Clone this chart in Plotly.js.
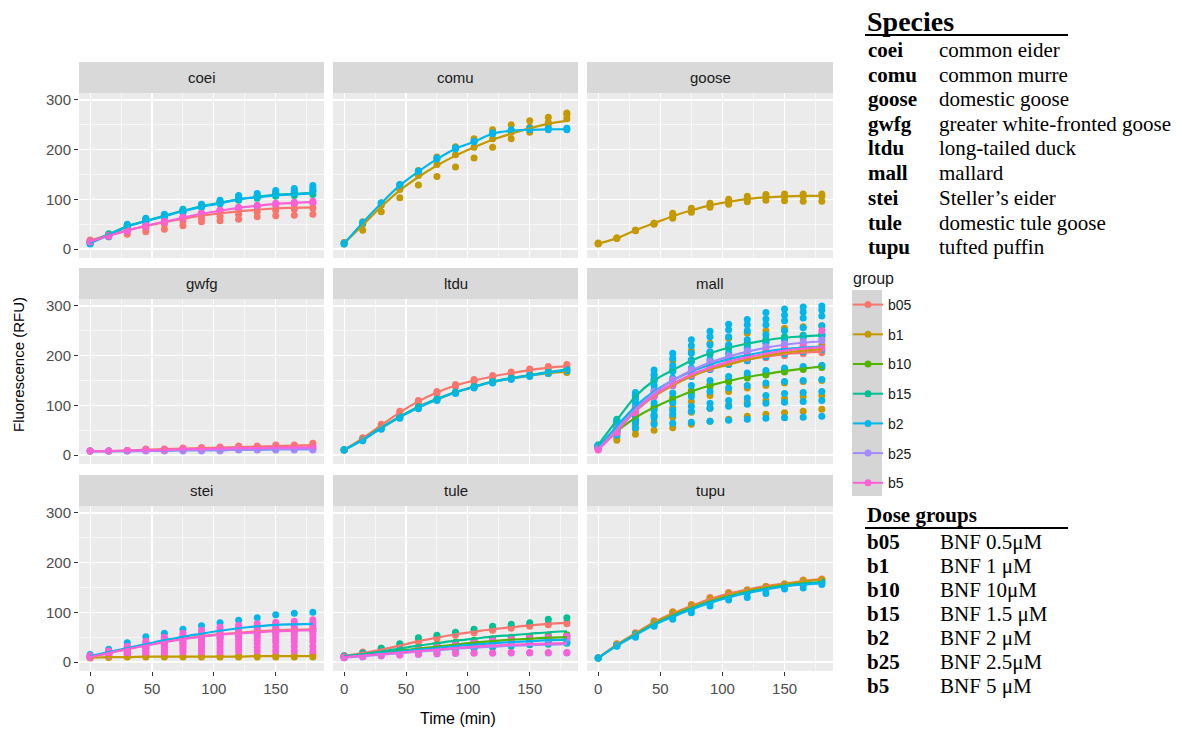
<!DOCTYPE html>
<html><head><meta charset="utf-8">
<script src="https://cdn.plot.ly/plotly-3.0.1.min.js"></script>
<style>html,body{margin:0;padding:0;background:#fff;}#chart{width:1181px;height:730px;}</style>
</head><body><div id="chart"></div>
<script>
// ---------------- DATA ----------------
const TIME = [0,15,30,45,60,75,90,105,120,135,150,165,180];
const GROUPS = ['b05','b1','b10','b15','b2','b25','b5'];
const GROUP_COLORS = ['#F8766D','#C49A00','#53B400','#00C094','#00B6EB','#A58AFF','#FB61D7'];
const SPECIES = ['coei','comu','goose','gwfg','ltdu','mall','stei','tule','tupu'];
const SPECIES_NAMES = ['common eider','common murre','domestic goose','greater white-fronted goose','long-tailed duck','mallard','Steller\u2019s eider','domestic tule goose','tufted puffin'];
const DOSE_CODES = ['b05','b1','b10','b15','b2','b25','b5'];
const DOSE_NAMES = ['BNF 0.5\u03bcM','BNF 1 \u03bcM','BNF 10\u03bcM','BNF 1.5 \u03bcM','BNF 2 \u03bcM','BNF 2.5\u03bcM','BNF 5 \u03bcM'];
const X_TICKS = [0,50,100,150];
const Y_TICKS = [0,100,200,300];

// smoothed fits per species / group
const coei_fit = {
  b05:[17,28,38,46,54,61,67,72,76,79,82,83,84],
  b15:[14,30,46,57,67,77,86,93,100,105,109,111,113],
  b2:[12,28,45,56,66,76,85,92,100,104,108,110,112],
  b5:[15,27,37,47,55,63,71,77,83,87,91,93,95]};
const coei_reps = {
  b05:[[18,25,30,35,40,47,55,57,60,65,67,68,70],[17,30,40,50,58,65,72,78,82,85,88,90,92],[16,27,36,42,50,56,62,66,70,74,78,80,82]],
  b15:[[15,31,48,60,68,80,88,95,102,108,112,115,116],[13,28,44,55,65,74,84,91,98,102,106,108,110]],
  b2:[[10,28,50,62,70,78,90,98,108,112,118,122,128],[12,25,44,55,65,75,85,92,100,105,110,113,118],[11,27,47,58,68,77,87,95,104,108,114,118,123]],
  b5:[[15,28,38,48,56,64,72,78,84,88,92,94,96],[14,26,36,45,54,62,70,76,82,86,90,92,94]]};

const comu_fit = {
  b1:[12,48,85,118,145,168,188,205,220,232,243,252,258],
  b2:[11,53,92,128,156,181,202,216,232,238,240,241,241]};
const comu_reps = {
  b1:[[10,38,75,103,129,146,165,183,205,222,235,250,262],[13,55,92,130,158,185,206,222,240,250,258,265,270],[12,50,88,120,148,170,190,205,222,235,245,255,274]],
  b2:[[10,52,92,128,156,181,202,216,232,238,240,240,240],[12,54,93,130,157,183,204,217,234,240,243,243,243]]};

const goose_fit = {b1:[11,22,38,52,66,78,88,95,101,104,106,107,107]};
const goose_reps = {b1:[[10,22,38,52,72,82,92,100,106,110,111,111,111],[12,21,37,50,62,74,84,90,95,98,97,96,96],[11,22,38,52,66,78,88,95,101,104,106,107,107]]};

const gwfg_fit = {
  b05:[8,8,9,11,12,13,14,15,16,17,18,19,20],
  b2:[8,8,8,9,9,10,10,10,11,11,12,12,12],
  b25:[8,8,8,8,9,10,10,10,11,11,12,12,12],
  b5:[8,8,9,10,10,12,12,13,14,14,15,15,16]};
const gwfg_reps = {
  b05:[[8,8,9,12,12,14,15,16,18,18,20,20,24],[8,8,9,10,11,12,13,14,15,16,16,17,18]],
  b2:[[8,8,8,9,9,10,10,10,11,11,12,12,12]],
  b25:[[8,8,8,8,8,8,8,8,10,10,10,10,10]],
  b5:[[8,8,9,10,10,12,12,13,14,14,15,15,16]]};

const ltdu_fit = {
  b05:[10,34,60,86,108,126,140,150,158,165,171,176,179],
  b1:[10,31,55,77,96,112,126,137,147,154,160,165,168],
  b15:[11,31,55,77,97,113,127,138,148,155,161,167,172],
  b2:[10,30,54,76,95,112,126,137,147,154,160,166,171]};
const ltdu_reps = {
  b05:[[10,35,62,88,110,128,142,152,160,167,173,178,182],[10,33,58,84,106,124,138,148,156,163,169,174,176]],
  b1:[[10,31,55,77,96,112,126,137,147,154,160,164,166]],
  b15:[[11,31,55,77,97,113,127,138,148,155,161,167,172]],
  b2:[[10,30,54,76,95,112,126,137,147,154,160,166,171],[10,29,52,74,93,110,124,135,145,152,158,164,169]]};

const mall_fit = {
  b05:[15,55,92,122,143,160,174,184,192,198,203,206,208],
  b1:[14,52,88,118,140,158,172,182,192,200,206,210,213],
  b10:[18,48,75,96,113,128,140,149,157,163,169,174,178],
  b15:[20,70,118,150,171,190,205,216,224,231,236,239,241],
  b2:[15,58,98,128,150,168,182,193,201,208,213,216,218],
  b25:[12,52,92,125,150,170,186,198,208,216,222,226,229],
  b5:[10,48,88,120,143,162,176,188,197,204,210,214,217]};
const mall_reps = {
  b05:[[14,52,90,120,140,158,172,182,190,196,200,204,206],[16,58,96,126,148,164,178,188,196,202,207,210,212]],
  b1:[[12,30,42,50,55,62,68,72,78,82,85,88,92],[13,35,52,66,76,86,94,100,106,110,114,118,120],[14,40,62,80,95,108,120,128,135,140,145,148,150],[15,55,92,122,145,165,180,192,200,208,214,218,222],[16,70,120,160,190,210,225,235,245,250,255,258,260]],
  b10:[[18,45,72,94,110,125,138,147,155,161,167,172,176],[19,50,78,98,116,130,142,151,159,165,171,176,180]],
  b15:[[20,72,120,152,173,192,207,218,226,233,238,241,243],[19,68,115,148,169,188,203,214,222,229,234,237,239]],
  b2:[[20,68,126,171,205,232,249,263,273,287,294,298,300],[19,65,120,162,195,220,238,252,262,274,282,288,292],[18,62,112,152,180,205,222,238,250,262,270,276,280],[17,58,104,140,168,190,208,222,232,242,250,256,260],[17,55,95,130,155,175,192,205,215,225,232,238,242],[16,52,88,118,140,158,172,182,190,198,204,208,212],[16,50,80,105,125,140,150,158,165,170,175,178,180],[15,48,72,90,105,118,128,135,140,145,148,150,152],[16,46,68,80,90,98,104,110,115,120,124,126,128],[16,45,65,75,82,88,94,98,102,104,106,108,110],[15,40,55,62,64,66,68,70,72,74,75,76,78]],
  b25:[[12,50,90,122,148,168,184,196,206,214,220,225,230],[13,54,94,128,152,172,188,200,210,218,224,228,232]],
  b5:[[10,45,85,118,140,160,174,186,195,202,208,212,215],[12,52,92,124,148,166,180,192,200,208,214,220,250]]};

const stei_fit = {
  b05:[11,18,26,34,41,47,52,56,59,62,64,65,66],
  b1:[9,10,10,11,11,11,11,11,11,12,12,12,12],
  b2:[12,20,28,36,44,51,57,63,68,72,75,76,77],
  b5:[10,18,26,33,40,46,51,55,58,60,62,63,64]};
const stei_reps = {
  b05:[[11,18,26,34,41,47,52,56,59,62,64,65,66]],
  b1:[[8,9,10,10,10,10,10,10,10,10,10,10,10],[9,10,11,12,12,12,13,13,13,14,14,14,15]],
  b2:[[15,26,39,51,58,66,73,79,84,89,95,98,100],[10,16,22,28,34,40,45,50,54,58,60,62,64]],
  b5:[[9,12,15,16,18,20,20,20,22,22,22,22,22],[10,13,16,19,22,25,26,27,29,30,31,32,32],[10,14,18,22,26,30,32,34,36,38,40,41,42],[10,15,20,25,30,34,37,40,42,44,46,48,49],[10,16,22,28,34,38,42,46,48,50,52,54,56],[11,17,24,31,38,43,47,51,54,56,58,60,62],[11,19,27,34,42,48,52,56,60,62,64,66,68],[12,20,29,37,44,51,56,60,64,67,69,71,73],[12,21,30,39,46,53,59,64,68,71,74,76,78],[12,22,32,42,50,58,64,70,74,77,80,82,85]]};

const tule_fit = {
  b05:[12,18,25,33,42,49,56,61,66,70,74,77,79],
  b10:[11,14,18,23,27,31,35,39,42,45,47,49,50],
  b15:[12,16,21,27,33,38,43,47,51,54,57,60,62],
  b2:[10,13,17,21,25,28,32,35,38,40,42,44,45],
  b25:[9,12,15,18,21,24,27,29,31,33,34,35,36],
  b5:[10,13,16,19,22,25,28,31,33,35,36,37,38]};
const tule_reps = {
  b05:[[13,20,28,36,45,52,58,63,68,72,75,78,80],[11,17,23,31,40,47,54,59,64,68,72,75,77]],
  b10:[[11,15,20,25,30,35,40,44,47,50,52,54,55],[11,13,16,20,24,28,30,34,37,40,42,44,45]],
  b15:[[12,18,28,37,49,54,60,66,72,76,79,86,89],[11,14,16,18,20,22,26,28,30,32,35,36,38]],
  b2:[[10,14,19,24,28,32,36,40,43,46,48,50,52],[9,12,15,18,22,25,28,30,33,35,37,38,40]],
  b25:[[9,12,17,22,26,30,34,38,40,43,45,47,48],[8,10,12,14,15,16,17,18,18,18,18,18,18]],
  b5:[[10,14,18,22,28,32,36,40,44,46,48,50,52],[9,11,13,14,16,17,18,18,18,19,19,19,19]]};

const tupu_fit = {
  b05:[8,35,58,80,98,113,127,138,146,153,158,163,167],
  b1:[8,34,57,79,96,111,124,135,144,151,157,162,166],
  b15:[8,33,55,76,93,108,121,132,141,148,154,158,161],
  b2:[8,33,54,75,91,106,119,130,139,146,152,156,159]};
const tupu_reps = {
  b05:[[8,37,59,83,101,116,130,140,145,152,157,165,167]],
  b1:[[8,36,58,81,100,115,128,138,145,152,157,164,166],[8,33,55,78,94,108,122,134,142,150,156,160,164]],
  b15:[[8,33,55,76,93,108,121,132,141,148,154,158,161]],
  b2:[[8,32,50,72,86,99,113,125,130,138,147,149,156],[8,34,56,76,92,107,120,131,140,147,153,157,160]]};

const FITS = [coei_fit,comu_fit,goose_fit,gwfg_fit,ltdu_fit,mall_fit,stei_fit,tule_fit,tupu_fit];
const REPS = [coei_reps,comu_reps,goose_reps,gwfg_reps,ltdu_reps,mall_reps,stei_reps,tule_reps,tupu_reps];

// ---------------- LAYOUT GEOMETRY ----------------
const W = 1181, H = 730;
const COLS = [[79,324],[333,578],[587,833]];
const ROWS = [[93,258],[299,464],[506,671]];
const STRIP_H = 31;
const px = v => v / W;
const py = v => 1 - v / H;
const SANS = 'Liberation Sans, Arial, sans-serif';
const SERIF = 'Liberation Serif, Times New Roman, serif';

const traces = [];
const layout = {
  width: W, height: H,
  margin: {l:0, r:0, t:0, b:0},
  paper_bgcolor: '#FFFFFF',
  plot_bgcolor: '#EBEBEB',
  showlegend: true,
  legend: {
    x: px(848), xanchor: 'left', y: py(289), yanchor: 'top',
    bgcolor: 'rgba(0,0,0,0)', borderwidth: 0,
    font: {family: SANS, size: 14, color: '#1A1A1A'},
    tracegroupgap: 8.5, itemwidth: 30, traceorder: 'grouped'
  },
  shapes: [], annotations: []
};

SPECIES.forEach((sp, k) => {
  const col = k % 3, row = Math.floor(k / 3);
  const suf = k === 0 ? '' : String(k + 1);
  const xa = 'x' + suf, ya = 'y' + suf;
  layout['xaxis' + suf] = {
    domain: [px(COLS[col][0]), px(COLS[col][1])], anchor: ya,
    range: [-9, 189], tickvals: X_TICKS, ticktext: X_TICKS.map(String),
    showgrid: true, gridcolor: '#FFFFFF', gridwidth: 1.2,
    minor: {tickvals: [25,75,125,175], showgrid: true, gridcolor: '#FFFFFF', gridwidth: 0.6, ticks: ''},
    zeroline: false, showline: false,
    ticks: row === 2 ? 'outside' : '', ticklen: 4, tickwidth: 1, tickcolor: '#333333',
    showticklabels: row === 2, tickfont: {family: SANS, size: 15, color: '#4D4D4D'},
    fixedrange: true
  };
  layout['yaxis' + suf] = {
    domain: [py(ROWS[row][1]), py(ROWS[row][0])], anchor: xa,
    range: [-18, 314], tickvals: Y_TICKS, ticktext: Y_TICKS.map(String),
    showgrid: true, gridcolor: '#FFFFFF', gridwidth: 1.2,
    minor: {tickvals: [50,150,250], showgrid: true, gridcolor: '#FFFFFF', gridwidth: 0.6, ticks: ''},
    zeroline: false, showline: false,
    ticks: col === 0 ? 'outside' : '', ticklen: 4, tickwidth: 1, tickcolor: '#333333',
    showticklabels: col === 0, tickfont: {family: SANS, size: 15, color: '#4D4D4D'},
    fixedrange: true
  };
  // strip
  layout.shapes.push({type: 'rect', xref: 'paper', yref: 'paper', layer: 'below',
    x0: px(COLS[col][0]), x1: px(COLS[col][1]), y0: py(ROWS[row][0]), y1: py(ROWS[row][0] - STRIP_H),
    fillcolor: '#D9D9D9', line: {width: 0}});
  layout.annotations.push({xref: 'paper', yref: 'paper', showarrow: false,
    x: px((COLS[col][0] + COLS[col][1]) / 2), y: py(ROWS[row][0] - STRIP_H / 2),
    xanchor: 'center', yanchor: 'middle', text: sp,
    font: {family: SANS, size: 15, color: '#1A1A1A'}});

  const fit = FITS[k], reps = REPS[k];
  // points layer
  GROUPS.forEach((g, gi) => {
    if (!reps[g]) return;
    const xs = [], ys = [];
    reps[g].forEach(r => r.forEach((v, i) => { xs.push(TIME[i]); ys.push(v); }));
    traces.push({type: 'scatter', mode: 'markers', x: xs, y: ys, xaxis: xa, yaxis: ya,
      marker: {color: GROUP_COLORS[gi], size: 7}, showlegend: false, hoverinfo: 'skip',
      legendgroup: g});
  });
  // smooth layer
  GROUPS.forEach((g, gi) => {
    if (!fit[g]) return;
    traces.push({type: 'scatter', mode: 'lines', x: TIME, y: fit[g], xaxis: xa, yaxis: ya,
      line: {color: GROUP_COLORS[gi], width: 2.2, shape: 'spline', smoothing: 1},
      showlegend: false, hoverinfo: 'skip', legendgroup: g});
  });
});

// legend entries
GROUPS.forEach((g, gi) => {
  traces.push({type: 'scatter', mode: 'lines+markers', x: [null], y: [null], xaxis: 'x', yaxis: 'y',
    name: g, legendgroup: g, showlegend: true,
    line: {color: GROUP_COLORS[gi], width: 2}, marker: {color: GROUP_COLORS[gi], size: 7}});
});

// legend key background
layout.shapes.push({type: 'rect', xref: 'paper', yref: 'paper', layer: 'below',
  x0: px(852), x1: px(882), y0: py(496), y1: py(290), fillcolor: '#D5D5D5', line: {width: 0}});
layout.annotations.push({xref: 'paper', yref: 'paper', showarrow: false, x: px(851), y: py(278),
  xanchor: 'left', yanchor: 'middle', text: 'group', font: {family: SANS, size: 16, color: '#1A1A1A'}});

// axis titles
layout.annotations.push({xref: 'paper', yref: 'paper', showarrow: false, x: px(18), y: py(365),
  xanchor: 'center', yanchor: 'middle', textangle: -90, text: 'Fluorescence (RFU)',
  font: {family: SANS, size: 15, color: '#000000'}});
layout.annotations.push({xref: 'paper', yref: 'paper', showarrow: false, x: px(458), y: py(718),
  xanchor: 'center', yanchor: 'middle', text: 'Time (min)',
  font: {family: SANS, size: 16, color: '#000000'}});

// species table
layout.annotations.push({xref: 'paper', yref: 'paper', showarrow: false, x: px(865), y: py(21),
  xanchor: 'left', yanchor: 'middle', text: '<b>Species</b>',
  font: {family: SERIF, size: 28, color: '#000000'}});
layout.shapes.push({type: 'line', xref: 'paper', yref: 'paper', x0: px(865), x1: px(1068), y0: py(35), y1: py(35),
  line: {color: '#000000', width: 2}});
const SP_Y = [50,75,99,124,148,173,198,223,247];
SPECIES.forEach((s, i) => {
  layout.annotations.push({xref: 'paper', yref: 'paper', showarrow: false, x: px(866), y: py(SP_Y[i]),
    xanchor: 'left', yanchor: 'middle', text: '<b>' + s + '</b>', font: {family: SERIF, size: 21, color: '#000000'}});
  layout.annotations.push({xref: 'paper', yref: 'paper', showarrow: false, x: px(937), y: py(SP_Y[i]),
    xanchor: 'left', yanchor: 'middle', text: SPECIES_NAMES[i], font: {family: SERIF, size: 21, color: '#000000'}});
});

// dose table
layout.annotations.push({xref: 'paper', yref: 'paper', showarrow: false, x: px(865), y: py(515),
  xanchor: 'left', yanchor: 'middle', text: '<b>Dose groups</b>',
  font: {family: SERIF, size: 21, color: '#000000'}});
layout.shapes.push({type: 'line', xref: 'paper', yref: 'paper', x0: px(865), x1: px(1068), y0: py(528), y1: py(528),
  line: {color: '#000000', width: 2}});
const DG_Y = [542,566,590,614,638,662,686];
DOSE_CODES.forEach((d, i) => {
  layout.annotations.push({xref: 'paper', yref: 'paper', showarrow: false, x: px(865), y: py(DG_Y[i]),
    xanchor: 'left', yanchor: 'middle', text: '<b>' + d + '</b>', font: {family: SERIF, size: 21, color: '#000000'}});
  layout.annotations.push({xref: 'paper', yref: 'paper', showarrow: false, x: px(938), y: py(DG_Y[i]),
    xanchor: 'left', yanchor: 'middle', text: DOSE_NAMES[i], font: {family: SERIF, size: 21, color: '#000000'}});
});

Plotly.newPlot('chart', traces, layout, {staticPlot: true, displayModeBar: false});
</script></body></html>
